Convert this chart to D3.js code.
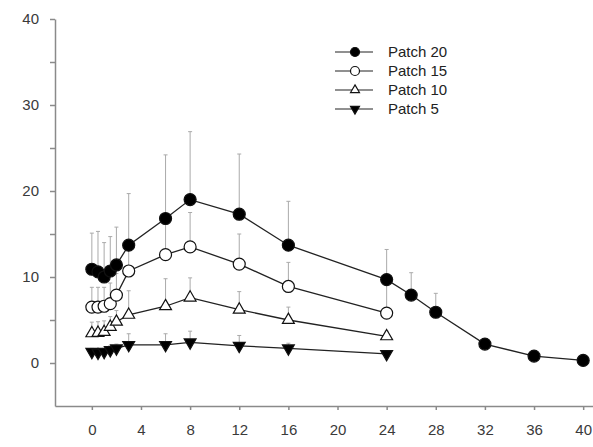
<!DOCTYPE html>
<html lang="en">
<head>
<meta charset="utf-8">
<title>Patch plasma concentration</title>
<script src="https://d3js.org/d3.v7.min.js"></script>
<style>
  body { margin: 0; background: #fff; }
  .axis path, .axis line { fill: none; stroke: #8a8a8a; stroke-width: 1.5; }
  .axis text { font-family: "Liberation Sans", Arial, sans-serif; font-size: 15px; fill: #3a3a3a; }
  .legend text { font-family: "Liberation Sans", Arial, sans-serif; font-size: 15px; fill: #222; }
</style>
</head>
<body>
<div id="chart"></div>
<script>
// sampling times (h)
const timesLong = [0, 0.5, 1, 1.5, 2, 3, 6, 8, 12, 16, 24, 26, 28, 32, 36, 40];
const times = [0, 0.5, 1, 1.5, 2, 3, 6, 8, 12, 16, 24];

// series means and upper error
const patch20 = [10.9, 10.6, 10.0, 10.7, 11.4, 13.7, 16.8, 19.0, 17.3, 13.7, 9.7, 7.9, 5.9, 2.2, 0.8, 0.3];
const patch20Err = [4.2, 4.7, 4.0, 4.0, 4.4, 6.0, 7.4, 7.9, 7.0, 5.1, 3.5, 2.6, 2.2, 0, 0, 0];
const patch15 = [6.5, 6.5, 6.6, 6.9, 7.9, 10.7, 12.6, 13.5, 11.5, 8.9, 5.8];
const patch15Err = [2.3, 2.3, 2.2, 2.4, 2.5, 3.0, 3.5, 4.0, 3.5, 2.8, 3.6];
const patch10 = [3.45, 3.5, 3.6, 4.2, 4.8, 5.6, 6.6, 7.6, 6.2, 5.0, 3.1];
const patch10Err = [1.3, 1.3, 1.3, 1.2, 1.3, 2.8, 3.2, 2.3, 2.1, 1.5, 0.6];
const patch5 = [1.3, 1.2, 1.3, 1.5, 1.7, 2.1, 2.1, 2.4, 2.0, 1.7, 1.05];
const patch5Err = [0.4, 0.4, 0.4, 0.5, 0.5, 1.3, 1.3, 1.3, 1.2, 0.6, 0.3];

const xTicks = [0, 4, 8, 12, 16, 20, 24, 28, 32, 36, 40];
const yTicks = [0, 5, 10, 15, 20, 25, 30, 35, 40];

const width = 593, height = 447;

const svg = d3.select("#chart").append("svg")
  .attr("width", width)
  .attr("height", height);

const x = d3.scaleLinear().domain([-3, 40.8]).range([55, 593]);
const y = d3.scaleLinear().domain([-5, 40]).range([406, 19]);

// axes
const xAxis = d3.axisBottom(x).tickValues(xTicks).tickSize(4).tickSizeOuter(0).tickPadding(14);
const yAxis = d3.axisLeft(y).tickValues(yTicks).tickSize(5).tickSizeOuter(0).tickPadding(11)
  .tickFormat(d => d % 10 === 0 ? d : "");

svg.append("g").attr("class", "axis")
  .attr("transform", "translate(0,406)")
  .call(xAxis);

svg.append("g").attr("class", "axis")
  .attr("transform", "translate(55,0)")
  .call(yAxis);

const series = [
  { name: "Patch 20", t: timesLong, v: patch20, e: patch20Err, shape: "circle", fill: "#000" },
  { name: "Patch 15", t: times, v: patch15, e: patch15Err, shape: "circle", fill: "#fff" },
  { name: "Patch 10", t: times, v: patch10, e: patch10Err, shape: "up", fill: "#fff" },
  { name: "Patch 5", t: times, v: patch5, e: patch5Err, shape: "down", fill: "#000" }
];

const rows = s => s.t.map((t, i) => ({ t: t, v: s.v[i], e: s.e[i] }));

// error bars (upper only)
series.forEach(s => {
  const g = svg.append("g");
  rows(s).filter(d => d.e > 0).forEach(d => {
    g.append("line")
      .attr("x1", x(d.t)).attr("x2", x(d.t))
      .attr("y1", y(d.v)).attr("y2", y(d.v + d.e))
      .attr("stroke", "#aaa").attr("stroke-width", 1);
    g.append("line")
      .attr("x1", x(d.t) - 2).attr("x2", x(d.t) + 2)
      .attr("y1", y(d.v + d.e)).attr("y2", y(d.v + d.e))
      .attr("stroke", "#aaa").attr("stroke-width", 1);
  });
});

const line = d3.line().x(d => x(d.t)).y(d => y(d.v));

series.forEach(s => {
  svg.append("path")
    .datum(rows(s))
    .attr("d", line)
    .attr("fill", "none")
    .attr("stroke", "#222")
    .attr("stroke-width", 1.3);
});

function marker(g, s, cx, cy, r) {
  if (s.shape === "circle") {
    g.append("circle").attr("cx", cx).attr("cy", cy).attr("r", r)
      .attr("fill", s.fill).attr("stroke", "#111").attr("stroke-width", 1.2);
  } else {
    const sym = d3.symbol().type(d3.symbolTriangle).size(r * r * 1.7)();
    g.append("path").attr("d", sym)
      .attr("transform", "translate(" + cx + "," + cy + ")" + (s.shape === "down" ? " rotate(180)" : ""))
      .attr("fill", s.fill).attr("stroke", "#111").attr("stroke-width", 1.2);
  }
}

series.forEach(s => {
  const g = svg.append("g");
  rows(s).forEach(d => marker(g, s, x(d.t), y(d.v), 6));
});

// legend
const legend = svg.append("g").attr("class", "legend");
const legendY = [52, 71, 90, 109];
series.forEach((s, i) => {
  legend.append("line")
    .attr("x1", 335).attr("x2", 373)
    .attr("y1", legendY[i]).attr("y2", legendY[i])
    .attr("stroke", "#222").attr("stroke-width", 1.2);
  marker(legend, s, 355, legendY[i], 4.5);
  legend.append("text")
    .attr("x", 388).attr("y", legendY[i])
    .attr("dy", "0.36em")
    .text(s.name);
});
</script>
</body>
</html>
